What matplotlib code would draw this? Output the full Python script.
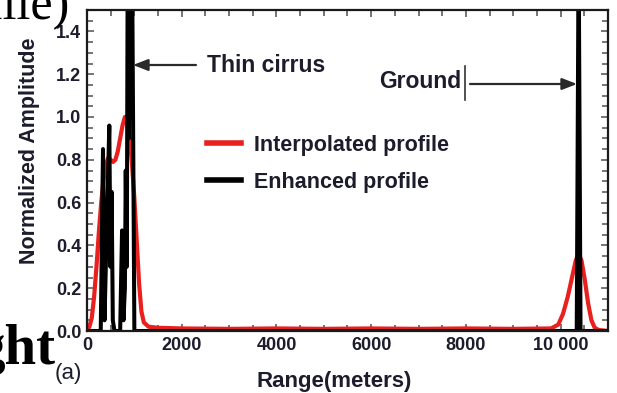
"""Lidar range profile: interpolated vs enhanced normalized amplitude."""
import matplotlib
matplotlib.use("Agg")
import matplotlib.pyplot as plt
from matplotlib.ticker import MultipleLocator, FormatStrFormatter

W, H = 617, 393
TEXT = "#1c1c2c"

# Interpolated profile (red)
interp_range = [0, 50, 100, 150, 200, 250, 300, 350, 400, 450, 500, 550, 600,
                650, 700, 750, 800, 850, 900, 950, 1000, 1050, 1100, 1150, 1200,
                1300, 1500, 2000, 3000, 4000, 5000, 6000, 7000, 8000, 9000,
                9800, 9950, 10050, 10150, 10250, 10320, 10380, 10440, 10510,
                10580, 10650, 10720, 10800, 11000]
interp_amp = [0.0, 0.02, 0.06, 0.16, 0.3, 0.46, 0.6, 0.71, 0.78, 0.81, 0.8,
              0.79, 0.8, 0.84, 0.9, 0.96, 1.0, 0.98, 0.9, 0.78, 0.62, 0.42,
              0.22, 0.09, 0.04, 0.02, 0.015, 0.012, 0.01, 0.012, 0.01, 0.012,
              0.01, 0.012, 0.01, 0.012, 0.03, 0.08, 0.16, 0.26, 0.33, 0.36,
              0.33, 0.24, 0.13, 0.05, 0.015, 0.005, 0.0]

# Enhanced profile (black)
enh_range = [0, 290, 338, 370, 410, 471, 495, 520, 545, 580, 700, 740, 770,
             800, 818, 840, 860, 880, 900, 925, 950, 1000, 10340, 10380,
             10420, 11000]
enh_amp = [0, 0, 0.85, 0.05, 0.42, 0.96, 0.3, 0.65, 0.05, 0, 0, 0.47, 0.05,
           0.2, 0.75, 0.3, 1.8, 0.9, 1.8, 1.0, 1.8, 0, 0, 1.8, 0, 0]

xticks = [0, 2000, 4000, 6000, 8000, 10000]
xtick_labels = ["0", "2000", "4000", "6000", "8000", "10 000"]


def fx(px):
    return px / W


def fy(py):
    return 1 - py / H


plt.rcParams["font.family"] = ["Liberation Sans", "DejaVu Sans"]

fig = plt.figure(figsize=(W / 100, H / 100), dpi=100)
ax = fig.add_axes([fx(87), fy(331), fx(608) - fx(87), fy(10) - fy(331)])

ax.plot(interp_range, interp_amp, color="#e8201e", lw=3,
        label="Interpolated profile")
ax.plot(enh_range, enh_amp, color="black", lw=2.9, label="Enhanced profile")

ax.set_xlim(0, 11000)
ax.set_ylim(0, 1.5)
ax.set_xticks(xticks)
ax.set_xticklabels(xtick_labels)
ax.xaxis.set_minor_locator(MultipleLocator(500))
ax.yaxis.set_major_locator(MultipleLocator(0.2))
ax.yaxis.set_minor_locator(MultipleLocator(0.05))
ax.yaxis.set_major_formatter(FormatStrFormatter("%.1f"))

ax.tick_params(which="both", direction="in", top=True, right=True,
               color="#6a6a6a", width=1.3)
ax.tick_params(which="major", length=5, labelsize=13, labelcolor=TEXT, pad=4)
ax.tick_params(which="minor", length=4)
for lab in ax.get_xticklabels() + ax.get_yticklabels():
    lab.set_fontweight("bold")
for sp in ax.spines.values():
    sp.set_linewidth(1.6)
    sp.set_color("#1a1a1a")

leg = ax.legend(loc="upper left", bbox_to_anchor=(fx(196), fy(124)),
                bbox_transform=fig.transFigure, frameon=False,
                handlelength=1.6, handletextpad=0.6, labelspacing=0.75,
                borderpad=0, prop={"size": 15.5, "weight": "bold"})
for t in leg.get_texts():
    t.set_color(TEXT)
for ln in leg.get_lines():
    ln.set_linewidth(4)

# Annotations
arrow_kw = dict(arrowstyle="-|>,head_length=0.9,head_width=0.35",
                color="#2a2a2a", lw=1.6, shrinkA=0, shrinkB=0)
ax.annotate("", xy=(fx(133), fy(65)), xytext=(fx(196), fy(65)),
            xycoords="figure fraction", textcoords="figure fraction",
            arrowprops=arrow_kw)
fig.text(fx(207), fy(66), "Thin cirrus", fontsize=16.5, fontweight="bold",
         color=TEXT, va="center", ha="left")

fig.text(fx(461), fy(82), "Ground", fontsize=16.5, fontweight="bold",
         color=TEXT, va="center", ha="right")
ax.annotate("", xy=(fx(465), fy(103)), xytext=(fx(465), fy(63)),
            xycoords="figure fraction", textcoords="figure fraction",
            arrowprops=dict(arrowstyle="-", color="#333333", lw=1.2))
ax.annotate("", xy=(fx(577), fy(84)), xytext=(fx(470), fy(84)),
            xycoords="figure fraction", textcoords="figure fraction",
            arrowprops=arrow_kw)

fig.text(fx(30), fy(151), "Normalized Amplitude", rotation=90, fontsize=15.5,
         fontweight="bold", color=TEXT, ha="center", va="center")
fig.text(fx(334), fy(381), "Range(meters)", fontsize=16, fontweight="bold",
         color=TEXT, ha="center", va="center")
fig.text(fx(68), fy(373), "(a)", fontsize=16, color=TEXT,
         ha="center", va="center")

# Fragments of the surrounding page
fig.text(fx(70), fy(19), "file)", fontsize=36, family="Liberation Serif",
         color="black", ha="right", va="baseline")
fig.text(fx(56), fy(364), "ght", fontsize=41, family="Liberation Serif",
         fontweight="bold", color="black", ha="right", va="baseline")

fig.savefig("out.png", dpi=100)
